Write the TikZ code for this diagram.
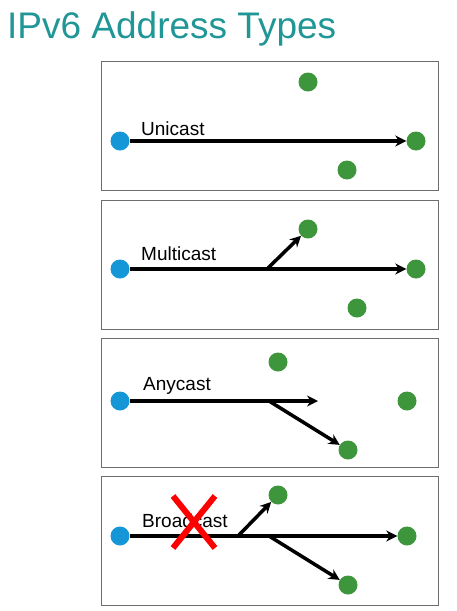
\documentclass[tikz,border=0pt]{standalone}
\usepackage{fontspec}
\setmainfont{Liberation Sans}
\usetikzlibrary{arrows.meta,shapes.misc}
\definecolor{titleteal}{RGB}{32,150,150}
\definecolor{srcblue}{RGB}{20,150,215}
\definecolor{dstgreen}{RGB}{62,150,60}
\definecolor{framegray}{RGB}{110,110,110}
\begin{document}
\begin{tikzpicture}[
			x=1pt, y=-1pt,
			panel/.style={rectangle, draw=framegray, line width=0.9pt, minimum width=337pt, minimum height=129pt, inner sep=0pt},
			src/.style={circle, fill=srcblue, minimum size=19pt, inner sep=0pt},
			dst/.style={circle, fill=dstgreen, minimum size=19pt, inner sep=0pt},
			caption/.style={anchor=base west, inner sep=0pt, font=\fontsize{19}{21}\selectfont},
			arrow/.style={line width=3.5pt, -{Stealth[length=11pt, width=11pt]}}
		]
		\useasboundingbox (0,0) rectangle (456,611);

		% Titolo
		\node[anchor=base west, inner sep=0pt, text=titleteal, font=\fontsize{37}{40}\selectfont] (title) at (7, 38) {IPv6 Address Types};

		% Unicast
		\node[panel] (uni) at (269.5, 125.5) {};
		\node[src] (uni_src) at (120, 141) {};
		\node[dst] (uni_top) at (308, 82) {};
		\node[dst] (uni_right) at (416, 141) {};
		\node[dst] (uni_bottom) at (347, 170) {};
		\node[caption] (uni_label) at (141, 135) {Unicast};
		\draw[arrow] (uni_src) -- (uni_right);

		% Multicast
		\node[panel] (multi) at (269.5, 265) {};
		\node[src] (multi_src) at (120, 269) {};
		\node[dst] (multi_top) at (308, 229) {};
		\node[dst] (multi_right) at (416, 269) {};
		\node[dst] (multi_bottom) at (357, 308) {};
		\node[caption] (multi_label) at (141, 260) {Multicast};
		\coordinate (multi_fork) at (267, 269);
		\draw[arrow] (multi_src) -- (multi_right);
		\draw[arrow] (multi_fork) -- (multi_top);

		% Anycast
		\node[panel] (any) at (269.5, 402.5) {};
		\node[src] (any_src) at (120, 401) {};
		\node[dst] (any_top) at (278, 362) {};
		\node[dst] (any_right) at (407, 401) {};
		\node[dst] (any_bottom) at (348, 450) {};
		\node[caption] (any_label) at (143, 390) {Anycast};
		\coordinate (any_fork) at (269, 401);
		\coordinate (any_end) at (318, 401);
		\draw[arrow] (any_src) -- (any_end);
		\draw[arrow] (any_fork) -- (any_bottom);

		% Broadcast
		\node[panel] (broad) at (269.5, 540.5) {};
		\node[src] (broad_src) at (120, 536) {};
		\node[dst] (broad_top) at (278, 495) {};
		\node[dst] (broad_right) at (407, 536) {};
		\node[dst] (broad_bottom) at (348, 585) {};
		\node[caption] (broad_label) at (142, 527) {Broadcast};
		\coordinate (broad_fork_up) at (238, 536);
		\coordinate (broad_fork_down) at (269, 536);
		\draw[arrow] (broad_src) -- (broad_right);
		\draw[arrow] (broad_fork_up) -- (broad_top);
		\draw[arrow] (broad_fork_down) -- (broad_bottom);
		\node[cross out, draw=red, line width=6pt, minimum width=36pt, minimum height=46pt, inner sep=0pt] (broad_cross) at (194, 522) {};

	\end{tikzpicture}
\end{document}
